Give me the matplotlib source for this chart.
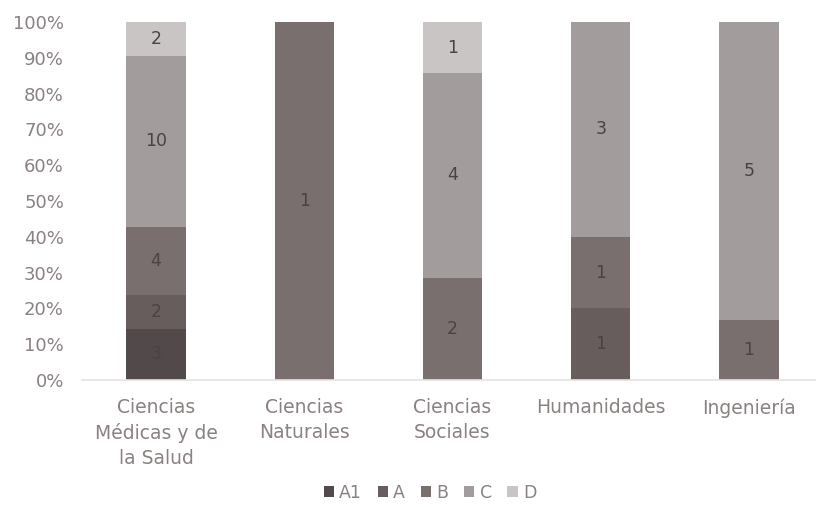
import matplotlib
matplotlib.use("Agg")
import matplotlib.pyplot as plt
import numpy as np
from matplotlib.ticker import PercentFormatter

categories = ["Ciencias\nMédicas y de\nla Salud", "Ciencias\nNaturales", "Ciencias\nSociales",
              "Humanidades", "Ingeniería"]
series_names = ["A1", "A", "B", "C", "D"]
A1 = [3, 0, 0, 0, 0]
A = [2, 0, 0, 1, 0]
B = [4, 1, 2, 1, 1]
C = [10, 0, 4, 3, 5]
D = [2, 0, 1, 0, 0]
colors = ["#524a4a", "#675d5c", "#786f6e", "#a29d9c", "#c9c5c4"]

plt.rcParams['font.family'] = ['DejaVu Sans']
text_color = "#8a8181"

data = np.array([A1, A, B, C, D], dtype=float)
totals = data.sum(axis=0)
pct = data / totals * 100

fig = plt.figure(figsize=(8.16, 5.07), dpi=100)
ax = fig.add_axes([82/816, 1-380/507, 741/816, (380-22)/507])
x = np.arange(len(categories))
bottom = np.zeros(len(categories))
for i, name in enumerate(series_names):
    ax.bar(x, pct[i], 0.4, bottom=bottom, color=colors[i], label=name)
    for j in range(len(categories)):
        if data[i, j] > 0:
            ax.text(x[j], bottom[j] + pct[i, j]/2, f"{int(data[i, j])}", ha="center", va="center",
                    fontsize=12.5, color="#4a4343")
    bottom += pct[i]

ax.set_xlim(-0.5, 4.5)
ax.set_ylim(0, 100)
ax.set_yticks(np.arange(0, 101, 10))
ax.yaxis.set_major_formatter(PercentFormatter(decimals=0))
ax.set_xticks(x)
ax.set_xticklabels(categories, fontsize=13.5, color=text_color, linespacing=1.38)
ax.tick_params(axis="y", labelsize=13, colors=text_color, length=0, pad=13)
ax.tick_params(axis="x", length=0, pad=13, colors=text_color)
for s in ["top", "right", "left"]:
    ax.spines[s].set_visible(False)
ax.spines["bottom"].set_color("#e8e2e1")
ax.spines["bottom"].set_linewidth(1.2)

leg = fig.legend(loc="center", bbox_to_anchor=(430/816, 1-493/507), ncol=5, frameon=False,
                 fontsize=12.5, handlelength=0.6, handleheight=0.6, handletextpad=0.3,
                 columnspacing=0.9)
for t in leg.get_texts():
    t.set_color(text_color)

fig.savefig("out.png", dpi=100)
